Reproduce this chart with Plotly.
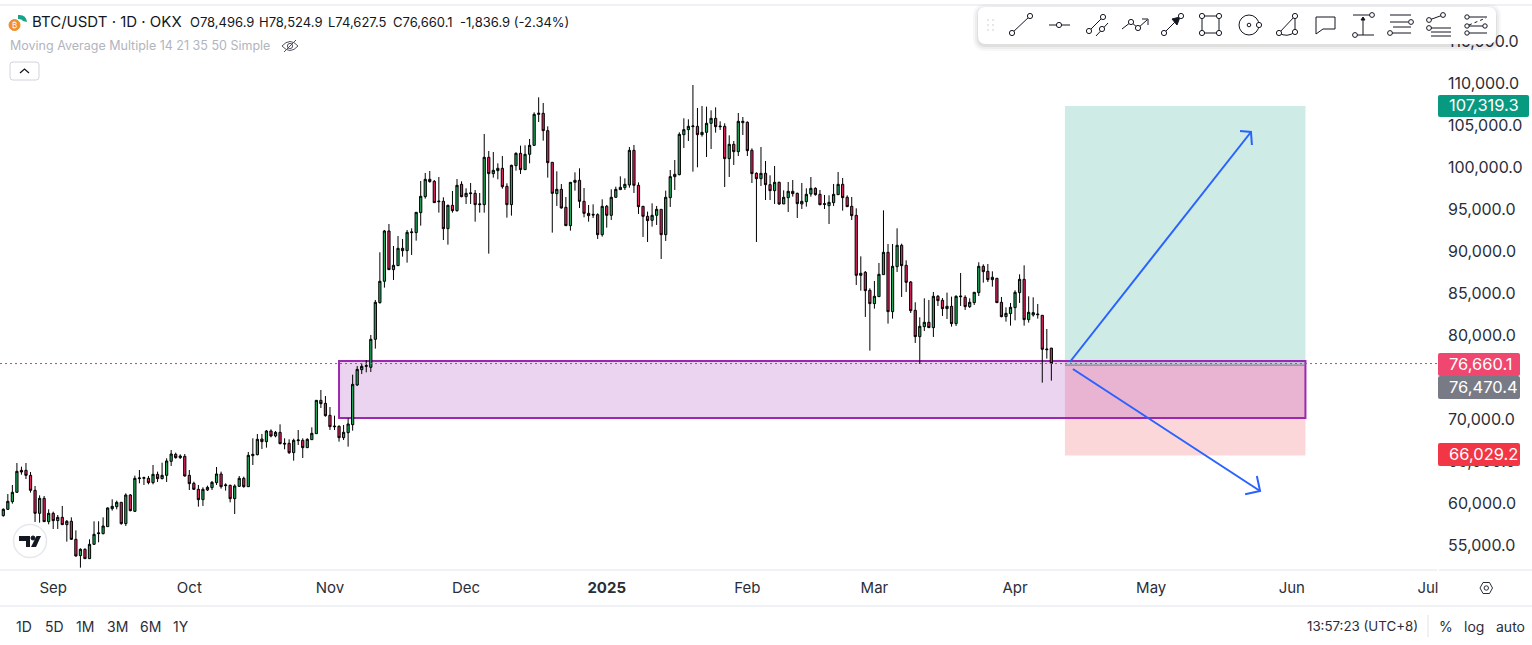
import plotly.graph_objects as go
import pandas as pd

W, H = 1532, 645

# daily candles, first one is 2024-08-21
first_day = "2024-08-21"
directions = (
    "UUUUDDDDUD" "UDUDUDDUDU" "UUUUUUDUDU" "UUDUDUUUDU" "DDDDUUUUDU" "DUUDUUUDUD"
    "UDDDUUDUUU" "DDDDDUUUUU" "UUUUUDUUDU" "UUUUDDDDUD" "UDUUDUUDUU" "DDUUDUUUUD"
    "DDUDDUUDDD" "DDUDUUUUUD" "DDDUUDUUUU" "UUUDUUUDDD" "UDUUDDDUDD" "UDUUDDUUUD"
    "DDUUUDDDDU" "DDUUUDUUDD" "DDUUDUDDUD" "UDDUUUDDUD" "DUUUUDUUDD" "DD"
)
highs = [
    59425, 61131, 62203, 64822, 64385, 64822, 63750, 62084, 60973, 60893,
    59306, 59028, 58631, 59703, 58037, 58354, 56806, 54663, 54663, 55735,
    57878, 57878, 58354, 59544, 60497, 60337, 60179, 61211, 61131, 63314,
    63988, 63195, 63274, 64583, 63790, 64861, 65377, 66369, 66052, 65853,
    65893, 63988, 62599, 62203, 61925, 62123, 62679, 64345, 63790, 62401,
    62242, 62282, 63274, 63195, 66131, 67758, 68274, 68274, 68750, 68829,
    68631, 69424, 67758, 67639, 67718, 68750, 67758, 67758, 69067, 72321,
    73511, 72797, 71488, 70456, 69305, 69345, 70139, 75337, 76368, 76686,
    77083, 80062, 84228, 89902, 92561, 93275, 90657, 91847, 91490, 92561,
    92759, 94664, 98394, 99346, 99584, 98513, 98870, 96450, 95577, 97203,
    98632, 98354, 97521, 98156, 97323, 96965, 103989, 101965, 101846, 100497,
    101370, 98117, 100338, 101806, 102600, 102640, 103394, 106568, 108354, 107679,
    104901, 100656, 99545, 98037, 96489, 98235, 99426, 99902, 97561, 95537,
    95616, 94545, 96211, 95537, 97402, 97719, 98950, 98711, 102441, 102679,
    98235, 95418, 94743, 95735, 95418, 95021, 97243, 99703, 100894, 104187,
    105854, 105735, 109822, 107084, 107322, 107243, 106806, 107163, 105497, 105259,
    103830, 103155, 106489, 106012, 105497, 102283, 99426, 102441, 100775, 99069,
    100180, 98315, 97283, 98275, 98513, 97005, 98156, 97521, 98870, 97640,
    97323, 96728, 96688, 98037, 99465, 98751, 96688, 96489, 95140, 89426,
    87680, 85617, 86490, 88633, 94902, 90894, 90894, 92759, 90934, 88950,
    86490, 83950, 82165, 84427, 84228, 85180, 84823, 84466, 85101, 84625,
    84784, 87443, 84784, 84427, 85180, 88712, 88474, 88514, 87640, 86847,
    84585, 83355, 83871, 85379, 87284, 88355, 84665, 84546, 83752, 82442,
    80776, 78524.9,
]
body_tops = [
    59306, 60258, 61330, 63830, 63948, 63948, 63353, 61568, 60615, 60615,
    58830, 58830, 58354, 58354, 57878, 57878, 55735, 54544, 54544, 55140,
    56330, 56489, 57322, 59465, 59663, 60139, 60139, 61012, 61012, 62996,
    63036, 63075, 62996, 63472, 63472, 63353, 65059, 65893, 65853, 65655,
    65615, 63353, 62401, 61687, 61687, 61925, 62520, 63512, 63512, 62203,
    62163, 62084, 62996, 62996, 65734, 65853, 67639, 67678, 68631, 68631,
    68472, 68472, 67163, 67163, 67520, 67560, 67520, 67639, 68353, 72281,
    72281, 71924, 70496, 69226, 69186, 68472, 69464, 74186, 75972, 76329,
    76408, 79546, 83950, 86450, 92442, 92442, 88356, 90379, 90379, 92283,
    92323, 94664, 96569, 98592, 98592, 98354, 96013, 95974, 95497, 95497,
    97878, 97997, 96926, 96965, 96926, 95656, 101211, 101211, 99664, 99902,
    99902, 97759, 100259, 101687, 101687, 101569, 102640, 106330, 106449, 106449,
    104386, 100616, 97402, 97402, 95259, 98235, 98473, 98473, 95973, 94545,
    94426, 94386, 95378, 95378, 96450, 97402, 97640, 97997, 102045, 102045,
    97878, 95378, 94188, 94307, 95021, 95021, 96450, 98910, 99188, 103949,
    104505, 104901, 104941, 104901, 104187, 105259, 105854, 105854, 104941, 104901,
    102759, 102759, 105497, 105497, 105378, 102045, 99307, 99307, 99307, 97958,
    98235, 98235, 96450, 97164, 97164, 96926, 95973, 96806, 97521, 97521,
    96806, 95696, 95855, 96806, 97997, 97997, 96450, 95378, 94307, 87403,
    87522, 85379, 84665, 87284, 89902, 89902, 88236, 90736, 90736, 88355,
    86371, 82999, 81093, 81570, 81570, 84665, 84665, 84189, 83474, 83474,
    84665, 84705, 84546, 83950, 85141, 88236, 88236, 87640, 86926, 86807,
    83950, 82641, 83355, 85141, 86688, 86688, 82760, 82720, 82561, 82403,
    78396, 78496.9,
]
body_bottoms = [
    58552, 59306, 60219, 61330, 63750, 63353, 61568, 58830, 58830, 57838,
    57838, 57957, 57957, 57481, 57481, 55735, 53751, 53791, 53433, 53433,
    55140, 56410, 56410, 57243, 59385, 59623, 57600, 57600, 59147, 59068,
    62957, 62996, 62481, 62481, 62957, 62957, 63353, 65020, 65456, 65456,
    63274, 62361, 61687, 60457, 60457, 61608, 61885, 62481, 62004, 62123,
    60576, 60576, 62044, 62004, 62004, 65694, 65813, 67361, 67361, 68036,
    68036, 67123, 67083, 66052, 66052, 67480, 66647, 66647, 67599, 68313,
    71885, 70456, 69147, 69147, 67837, 67837, 68432, 69385, 74107, 75932,
    76329, 76213, 79546, 83911, 86450, 87839, 87839, 88315, 90101, 90101,
    92244, 92244, 94625, 96529, 98315, 95815, 95934, 92720, 92720, 94862,
    94862, 96529, 96529, 96886, 95577, 95577, 95577, 99267, 99267, 99624,
    97719, 95577, 95577, 100219, 99743, 99743, 101569, 102640, 106330, 104386,
    100576, 96926, 96886, 95180, 93076, 93076, 98235, 95973, 94545, 94267,
    94347, 92005, 92005, 94307, 94307, 96450, 97362, 97600, 97918, 97878,
    95339, 94188, 93672, 93712, 94307, 92005, 92005, 96410, 98910, 99148,
    103909, 104505, 104862, 103909, 103909, 104187, 105259, 104862, 104862, 101053,
    101053, 101886, 101886, 105338, 102005, 99267, 98672, 98672, 97958, 97243,
    97243, 95656, 95656, 96410, 96886, 95696, 95656, 95934, 96846, 96767,
    95577, 95616, 95457, 95815, 96767, 96410, 95339, 94267, 87165, 87165,
    85339, 83792, 83792, 84625, 87244, 82840, 82840, 88196, 88315, 86331,
    82958, 79863, 79863, 81054, 80935, 80935, 84149, 83196, 83196, 81411,
    81411, 84625, 83434, 83434, 83911, 85101, 87601, 86649, 86649, 83911,
    82244, 82244, 82601, 83315, 85101, 81887, 81887, 82442, 82482, 78356,
    78316, 76660.1,
]
lows = [
    58433, 59226, 59981, 61290, 63433, 62917, 61290, 57798, 57719, 57798,
    57520, 56965, 56965, 57441, 55457, 55655, 53671, 52362, 53394, 53394,
    55060, 55378, 56330, 57243, 59147, 59306, 57481, 57322, 59068, 58988,
    62401, 62203, 62282, 62282, 62560, 62877, 62560, 64464, 65337, 65298,
    63195, 61608, 61608, 59623, 59703, 61488, 61608, 62203, 61766, 61528,
    60139, 58750, 61964, 61885, 61964, 64583, 65734, 66488, 66647, 67877,
    67877, 67044, 66448, 65893, 65099, 66964, 65417, 66607, 67560, 68274,
    71369, 70337, 68750, 68750, 67361, 67559, 66766, 68670, 73988, 75416,
    75614, 75657, 78435, 83792, 85696, 87799, 86609, 88276, 89387, 88673,
    89585, 91291, 93076, 96291, 98196, 95775, 94625, 91371, 90815, 94625,
    94743, 96450, 95656, 95656, 93553, 94625, 94625, 89743, 98791, 98592,
    97481, 94029, 94267, 99624, 99227, 99703, 100497, 102600, 105417, 103195,
    98791, 92243, 95418, 95101, 93076, 92482, 97243, 95180, 94069, 93553,
    93990, 91490, 91767, 92839, 93752, 96410, 97323, 97323, 97600, 96965,
    94466, 91728, 91132, 92958, 93156, 89109, 91252, 95299, 97323, 99069,
    102322, 103155, 99505, 100021, 103672, 101251, 102203, 104148, 104465, 97680,
    98870, 100299, 101370, 103870, 101370, 98156, 91132, 97798, 96132, 96132,
    95656, 95537, 95656, 94704, 96529, 93990, 95061, 95339, 96529, 96648,
    95497, 95061, 93275, 95418, 96728, 94862, 95299, 93752, 86014, 85339,
    82205, 78196, 83196, 84585, 87244, 81411, 82006, 87561, 84585, 85180,
    82680, 79109, 76609, 80538, 80895, 79824, 83514, 82324, 81966, 81054,
    81133, 83514, 83039, 83276, 83633, 84705, 86292, 86371, 85815, 83871,
    82165, 81649, 81173, 81808, 83871, 81173, 81530, 82244, 82006, 74387,
    77244, 74627.5,
]

month_ticks = ["2024-09-01", "2024-10-01", "2024-11-01", "2024-12-01", "2025-01-01", "2025-02-01",
               "2025-03-01", "2025-04-01", "2025-05-01", "2025-06-01", "2025-07-01"]
month_labels = ["Sep", "Oct", "Nov", "Dec", "<b>2025</b>", "Feb", "Mar", "Apr", "May", "Jun", "Jul"]
price_ticks = [55000, 60000, 65000, 70000, 80000, 85000, 90000, 95000, 100000, 105000, 110000, 115000]
x_range = ["2024-08-20 06:33", "2025-07-03 00:00"]

# drawings on the chart
last_close = 76660.1
target_price = 107319.3
entry_price = 76470.4
stop_price = 66029.2
stop_box_low = 65700
position_start, position_end = "2025-04-12", "2025-06-04"
zone_start, zone_end = "2024-11-03", "2025-06-04"
zone_top, zone_bottom = 76964, 70178
arrow_x = ["2025-04-13 02:00", "2025-05-23 00:00", None, "2025-05-20 14:00", "2025-05-23 00:00", "2025-05-23 05:00", None,
           "2025-04-13 18:00", "2025-05-25 00:00", None, "2025-05-21 17:00", "2025-05-25 00:00", "2025-05-24 07:00"]
arrow_y = [76844, 104226, None, 104345, 104226, 102680, None,
           76012, 61485, None, 61090, 61485, 63270]

INK = "#131722"
GREY = "#e0e3eb"
UP = "#1fa85a"
DOWN = "#e0245e"
FONT = "Inter"

dates = pd.date_range(first_day, periods=len(highs), freq="D")
opens = [b if d == "U" else t for d, t, b in zip(directions, body_tops, body_bottoms)]
closes = [t if d == "U" else b for d, t, b in zip(directions, body_tops, body_bottoms)]


def xp(x):
    return x / W


def yp(y):
    return 1 - y / H


def rounded(x0, y0, x1, y1, r):
    return (f"M{xp(x0 + r)},{yp(y0)} L{xp(x1 - r)},{yp(y0)} Q{xp(x1)},{yp(y0)} {xp(x1)},{yp(y0 + r)} "
            f"L{xp(x1)},{yp(y1 - r)} Q{xp(x1)},{yp(y1)} {xp(x1 - r)},{yp(y1)} "
            f"L{xp(x0 + r)},{yp(y1)} Q{xp(x0)},{yp(y1)} {xp(x0)},{yp(y1 - r)} "
            f"L{xp(x0)},{yp(y0 + r)} Q{xp(x0)},{yp(y0)} {xp(x0 + r)},{yp(y0)} Z")


def poly(points, closed=False):
    d = "M" + " L".join(f"{xp(x)},{yp(y)}" for x, y in points)
    return d + (" Z" if closed else "")


shapes = []


def ui_path(d, fill=None, color=INK, width=1):
    shapes.append(dict(type="path", path=d, xref="paper", yref="paper", layer="above",
                       fillcolor=fill or "rgba(0,0,0,0)",
                       line=dict(color=color, width=width)))


def ui_line(x0, y0, x1, y1, color=INK, width=1, dash="solid"):
    shapes.append(dict(type="line", xref="paper", yref="paper", layer="above",
                       x0=xp(x0), y0=yp(y0), x1=xp(x1), y1=yp(y1),
                       line=dict(color=color, width=width, dash=dash)))


def ui_circle(cx, cy, r, fill="white", color=INK, width=1):
    shapes.append(dict(type="circle", xref="paper", yref="paper", layer="above",
                       x0=xp(cx - r), y0=yp(cy - r), x1=xp(cx + r), y1=yp(cy + r),
                       fillcolor=fill, line=dict(color=color, width=width)))


def ui_rect(x0, y0, x1, y1, fill, r=2):
    ui_path(rounded(x0, y0, x1, y1, r), fill=fill, color=fill, width=0)


# position tool and support zone sit under the candles
shapes += [
    dict(type="rect", x0=position_start, x1=position_end, y0=entry_price, y1=target_price, layer="below",
         fillcolor="rgba(8,153,129,0.2)", line=dict(width=0)),
    dict(type="rect", x0=position_start, x1=position_end, y0=stop_box_low, y1=entry_price, layer="below",
         fillcolor="rgba(242,54,69,0.2)", line=dict(width=0)),
    dict(type="rect", x0=zone_start, x1=zone_end, y0=zone_bottom, y1=zone_top, layer="below",
         fillcolor="rgba(156,39,176,0.2)", line=dict(color="#9c27b0", width=2)),
    dict(type="line", x0=position_start, x1=position_end, y0=entry_price, y1=entry_price, layer="below",
         line=dict(color="#787b86", width=1)),
]

# frame lines
ui_line(0, 5, W, 5, GREY)
ui_line(0, 570, 1437, 570, GREY)
ui_line(1439, 570, W, 570, GREY)
ui_line(0, 606, W, 606, GREY)

# price tags, these cover the ticks behind them
ui_rect(1438, 95, 1529, 117, "#089981")
ui_rect(1438, 353, 1520, 376, "#ef476f")
ui_rect(1438, 376, 1520, 399, "#787b86")
ui_rect(1438, 443, 1520, 466, "#f23645")

# floating drawing toolbar
for grow, alpha in [(5, 0.03), (3, 0.04), (1, 0.06)]:
    ui_path(rounded(978 - grow, 7 - grow + 2, 1496 + grow, 44 + grow + 2, 8 + grow),
            fill=f"rgba(0,0,0,{alpha})", color="rgba(0,0,0,0)", width=0)
ui_path(rounded(978, 7, 1496, 44, 8), fill="white", color="white", width=0)
for gx in (988, 993):
    for gy in (20, 25, 30):
        ui_circle(gx, gy, 0.8, fill="#c5c8d0", color="#c5c8d0", width=0)

ui_line(1012, 33, 1030, 16)
ui_circle(1012, 33, 2.6)
ui_circle(1030, 16, 2.6)
ui_line(1049, 25, 1070, 25)
ui_circle(1059, 25, 2.6)
ui_line(1089, 31, 1103, 17)
ui_line(1096, 36, 1108, 23)
ui_circle(1089, 31, 2.6)
ui_circle(1103, 17, 2.6)
ui_circle(1102, 29, 2.6)
ui_path(poly([(1122, 29), (1131, 22), (1138, 28), (1147, 20)]))
ui_path(poly([(1142, 19), (1148, 19), (1148, 25)]))
ui_circle(1131, 22, 2.6)
ui_circle(1138, 28, 2.6)
ui_line(1164, 33, 1181, 16)
ui_path(poly([(1172, 19), (1180, 17), (1177, 25)], closed=True), fill=INK)
ui_circle(1164, 33, 2.6)
ui_circle(1181, 16, 2.6)
ui_path(poly([(1202, 16), (1219, 16), (1219, 33), (1202, 33)], closed=True))
for cx, cy in [(1202, 16), (1219, 16), (1202, 33), (1219, 33)]:
    ui_circle(cx, cy, 2.6)
ui_circle(1249, 25, 10)
ui_circle(1249, 25, 1.8)
ui_circle(1259, 25, 2.6)
ui_path(f"M{xp(1279)},{yp(33)} L{xp(1295)},{yp(16)} L{xp(1295)},{yp(32)} Q{xp(1287)},{yp(38)} {xp(1279)},{yp(33)}")
ui_circle(1279, 33, 2.6)
ui_circle(1295, 16, 2.6)
ui_circle(1295, 32, 2.6)
ui_path(poly([(1316, 17), (1335, 17), (1335, 29), (1323, 29), (1316, 34)], closed=True))
ui_line(1353, 15, 1372, 15)
ui_line(1355, 35, 1374, 35)
ui_line(1363, 35, 1363, 18)
ui_path(poly([(1361, 20), (1363, 17), (1365, 20)], closed=True), fill=INK)
ui_circle(1372, 15, 2.4)
ui_circle(1355, 35, 2.4)
for ly in (15, 33):
    ui_line(1390, ly, 1411, ly)
ui_line(1390, 22, 1408, 22)
ui_line(1393, 27, 1411, 27)
ui_circle(1411, 22, 2.4)
ui_circle(1390, 33, 2.4)
ui_line(1429, 20, 1443, 15)
ui_circle(1429, 20, 2.4)
ui_circle(1443, 15, 2.4)
ui_circle(1429, 28, 2.4)
for ly in (28, 32, 36):
    ui_line(1431, ly, 1451, ly)
ui_line(1467, 17, 1487, 17)
ui_line(1467, 26, 1485, 26)
ui_line(1467, 33, 1487, 33)
ui_line(1469, 25, 1486, 18, dash="dot")
ui_circle(1467, 17, 2.2)
ui_circle(1467, 26, 2.2)
ui_circle(1467, 33, 2.2)
ui_circle(1485, 26, 2.2)

# header glyphs
ui_circle(14.5, 25, 5.5, fill="#f28f2c", color="#f28f2c")
ui_path(f"M{xp(18)},{yp(15)} Q{xp(26)},{yp(14)} {xp(27)},{yp(22)} L{xp(23)},{yp(21)} Q{xp(22)},{yp(19)} {xp(18)},{yp(19)} Z",
        fill="#17a589", color="#17a589", width=0)
ui_path(rounded(10, 62, 39, 80, 3), color="#d1d4dc")
ui_path(poly([(20, 73), (24.5, 69), (29, 73)]), width=1.3)
ui_path(f"M{xp(282)},{yp(46)} Q{xp(290)},{yp(37)} {xp(298)},{yp(46)} Q{xp(290)},{yp(55)} {xp(282)},{yp(46)} Z",
        color="#50535e")
ui_circle(290, 46, 2.6, fill="rgba(0,0,0,0)", color="#50535e")
ui_line(284, 52, 296, 40, "#50535e")

# TradingView badge
ui_circle(30, 541, 16.5, color="#e6e8ee", width=1.5)
ui_path(poly([(19, 536), (30, 536), (30, 547), (26, 547), (26, 541), (19, 541)], closed=True), fill="#131722", width=0)
ui_circle(33, 538, 2, fill="#131722", color="#131722")
ui_path(poly([(36.5, 536), (41, 536), (36, 547), (31, 547)], closed=True), fill="#131722", width=0)

# bottom bar
ui_line(1428, 615, 1428, 637, GREY)
ui_path(poly([(1480, 588), (1483, 582.5), (1489.5, 582.5), (1492.5, 588), (1489.5, 593.5), (1483, 593.5)], closed=True),
        color="#2a2e39")
ui_circle(1486.3, 588, 2.2, color="#2a2e39")

annotations = []


def label(text, x, y, size=13, color=INK, anchor="left"):
    annotations.append(dict(text=text, xref="paper", yref="paper", x=xp(x), y=yp(y),
                            xanchor=anchor, yanchor="middle", showarrow=False,
                            font=dict(family=FONT, size=size, color=color)))


label("BTC/USDT · 1D · OKX", 30, 22, size=15)
label("O78,496.9", 188, 22)
label("H78,524.9", 257, 22)
label("L74,627.5", 326, 22)
label("C76,660.1", 391, 22)
label("-1,836.9 (-2.34%)", 458, 22)
label("Moving Average Multiple 14 21 35 50 Simple", 8, 46, size=12.5, color="#b2b5be")
label("₿", 14.5, 25, size=8, color="white", anchor="center")
for text, x in [("1D", 24), ("5D", 54), ("1M", 85), ("3M", 117), ("6M", 150), ("1Y", 181)]:
    label(text, x, 626, size=14, color="#2a2e39", anchor="center")
label("13:57:23 (UTC+8)", 1420, 626, size=13.3, color="#2a2e39", anchor="right")
label("%", 1446, 626, size=14, color="#2a2e39", anchor="center")
label("log", 1474, 626, size=14, color="#2a2e39", anchor="center")
label("auto", 1510, 626, size=14, color="#2a2e39", anchor="center")
label(f"{target_price:,.1f}", 1447, 105.5, size=16.5, color="white")
label(f"{last_close:,.1f}", 1447, 364, size=16.5, color="white")
label(f"{entry_price:,.1f}", 1447, 387, size=16.5, color="white")
label(f"{stop_price:,.1f}", 1447, 454, size=16.5, color="white")

fig = go.Figure()
fig.add_trace(go.Candlestick(
    x=dates, open=opens, high=highs, low=lows, close=closes,
    whiskerwidth=0, hoverinfo="skip",
    increasing=dict(fillcolor=UP, line=dict(color="#000000", width=1)),
    decreasing=dict(fillcolor=DOWN, line=dict(color="#000000", width=1)),
))
# last price line runs over the candles
fig.add_trace(go.Scatter(x=x_range, y=[last_close, last_close], mode="lines", hoverinfo="skip",
                         line=dict(color="#ff2a6d", width=1, dash="2px,3px")))
fig.add_trace(go.Scatter(x=arrow_x, y=arrow_y, mode="lines", hoverinfo="skip",
                         line=dict(color="#2962ff", width=2)))

fig.update_layout(
    width=W, height=H,
    autosize=False,
    showlegend=False,
    paper_bgcolor="white",
    plot_bgcolor="white",
    margin=dict(l=0, r=0, t=0, b=0, pad=0),
    boxgap=0.3,
    shapes=shapes,
    annotations=annotations,
    font=dict(family=FONT, color=INK),
    xaxis=dict(
        type="date",
        domain=[0, 1437 / W],
        range=x_range,
        rangeslider=dict(visible=False),
        tickmode="array", tickvals=month_ticks, ticktext=month_labels,
        tickfont=dict(family=FONT, size=15, color="#2a2e39"),
        ticks="", showgrid=False, zeroline=False, showline=False,
        ticklabelstandoff=7,
    ),
    yaxis=dict(
        domain=[1 - 570 / H, 1 - 5 / H],
        range=[52082, 119345],
        side="right",
        tickmode="array", tickvals=price_ticks,
        tickformat=",.1f",
        tickfont=dict(family=FONT, size=16, color="#2a2e39"),
        ticks="", showgrid=False, zeroline=False, showline=False,
        ticklabelstandoff=10,
    ),
)

fig.write_html("out.html", config={"displayModeBar": False},
               post_script="document.body.style.margin='0';document.body.style.overflow='hidden';")
